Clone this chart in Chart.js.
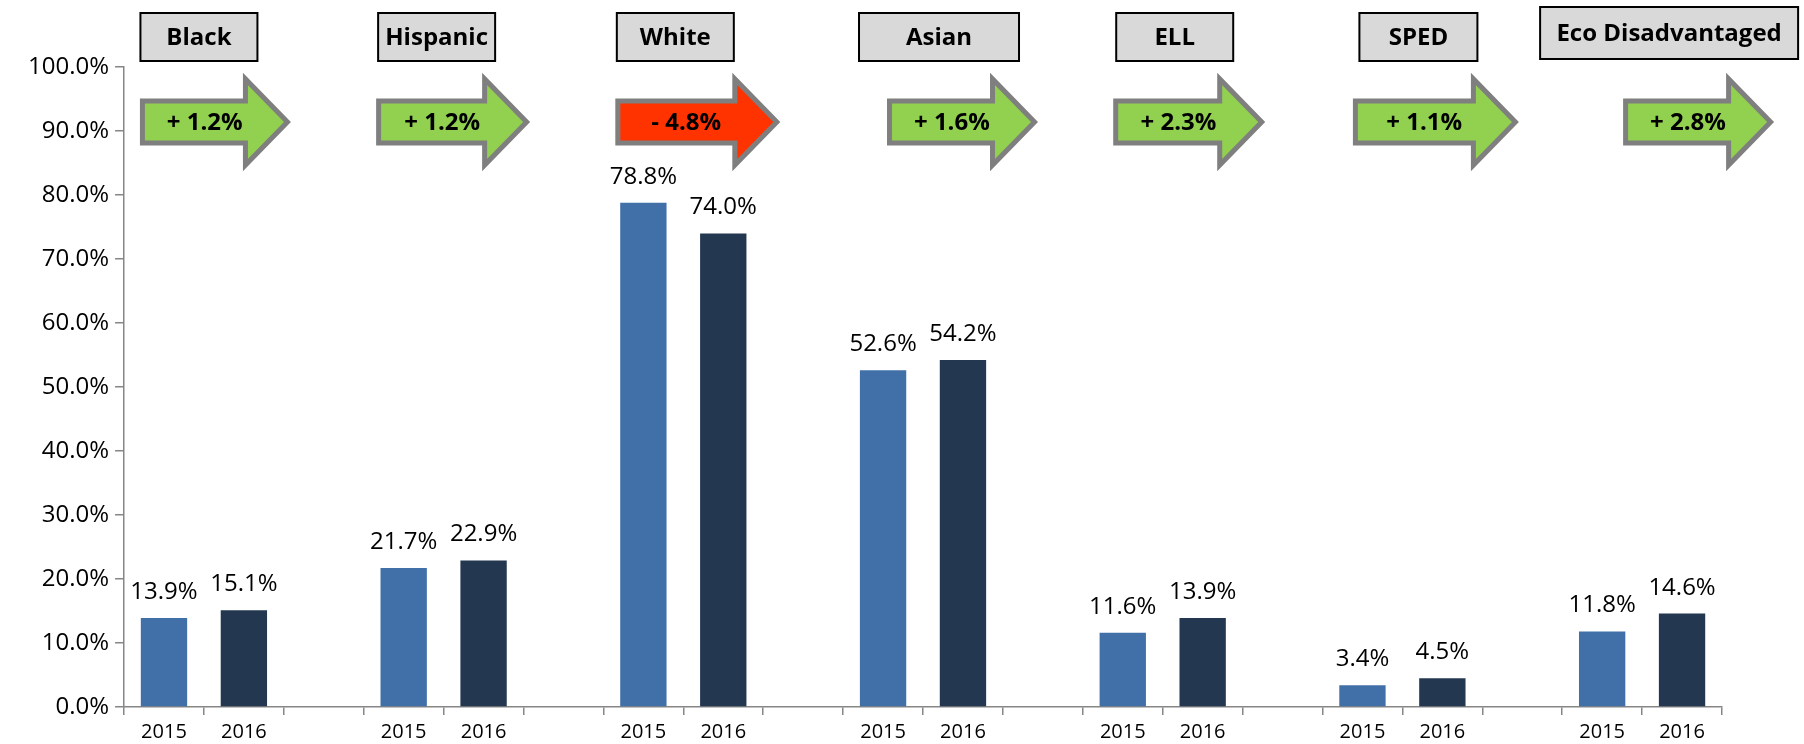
<!DOCTYPE html>
<html>
<head>
<meta charset="utf-8">
<script src="https://cdn.jsdelivr.net/npm/chart.js@4"></script>
<style>
  body { margin: 0; background: #fff; }
  #wrap { width: 1804px; height: 744px; }
</style>
</head>
<body>
<div id="wrap"><canvas id="myChart"></canvas></div>
<script>
// data
const groups = ['Black', 'Hispanic', 'White', 'Asian', 'ELL', 'SPED', 'Eco Disadvantaged'];
const years = ['2015', '2016'];
const values2015 = [13.9, 21.7, 78.8, 52.6, 11.6, 3.4, 11.8];
const values2016 = [15.1, 22.9, 74.0, 54.2, 13.9, 4.5, 14.6];
const changes = [1.2, 1.2, -4.8, 1.6, 2.3, 1.1, 2.8];
const yTicks = [0, 10, 20, 30, 40, 50, 60, 70, 80, 90, 100];

// header box / arrow placement (hand placed in the original)
const boxShift = [-5, -7, -8, 16, 12, 16, 27];
const boxWidth = [117, 117, 117, 160, 117, 118, 258];
const arrowShift = [16, 16, 22, 23, 14, 17, 29];
const arrowWidth = [145, 148, 159, 145, 146, 160, 145];

const C2015 = '#4170A8';
const C2016 = '#233751';
const FONT = '"Open Sans", "Liberation Sans", sans-serif';

// build the 2015, 2016, blank pattern
const labels = [];
const values = [];
const colors = [];
groups.forEach((g, i) => {
    labels.push(years[0], years[1]);
    values.push(values2015[i], values2016[i]);
    colors.push(C2015, C2016);
    if (i < groups.length - 1) {
        labels.push('');
        values.push(null);
        colors.push(C2015);
    }
});

const valueLabels = {
    id: 'valueLabels',
    afterDatasetsDraw(chart) {
        const ctx = chart.ctx;
        const meta = chart.getDatasetMeta(0);
        ctx.save();
        ctx.font = '24px ' + FONT;
        ctx.fillStyle = '#000';
        ctx.textAlign = 'center';
        ctx.textBaseline = 'alphabetic';
        meta.data.forEach((bar, i) => {
            const v = values[i];
            if (v === null) return;
            ctx.fillText(v.toFixed(1) + '%', bar.x, bar.y - 19);
        });
        ctx.restore();
    }
};

function drawArrow(ctx, left, cy, w, fill) {
    const head = 42, shaftH = 21, headH = 43;
    const right = left + w;
    ctx.beginPath();
    ctx.moveTo(left, cy - shaftH);
    ctx.lineTo(right - head, cy - shaftH);
    ctx.lineTo(right - head, cy - headH);
    ctx.lineTo(right, cy);
    ctx.lineTo(right - head, cy + headH);
    ctx.lineTo(right - head, cy + shaftH);
    ctx.lineTo(left, cy + shaftH);
    ctx.closePath();
    ctx.fillStyle = fill;
    ctx.fill();
    ctx.lineWidth = 5;
    ctx.strokeStyle = '#7F7F7F';
    ctx.lineJoin = 'miter';
    ctx.stroke();
}

const headers = {
    id: 'headers',
    afterDraw(chart) {
        const ctx = chart.ctx;
        const x = chart.scales.x;
        ctx.save();
        groups.forEach((g, i) => {
            const center = (x.getPixelForValue(i * 3) + x.getPixelForValue(i * 3 + 1)) / 2;
            // title box
            const bc = center + boxShift[i];
            const bw = boxWidth[i];
            const top = i === groups.length - 1 ? 7 : 13;
            const bh = i === groups.length - 1 ? 52 : 48;
            ctx.fillStyle = '#D9D9D9';
            ctx.fillRect(bc - bw / 2, top, bw, bh);
            ctx.lineWidth = 2;
            ctx.strokeStyle = '#000';
            ctx.strokeRect(bc - bw / 2, top, bw, bh);
            ctx.fillStyle = '#000';
            ctx.font = 'bold 24px ' + FONT;
            ctx.textAlign = 'center';
            ctx.textBaseline = 'middle';
            ctx.fillText(g, bc, top + bh / 2 + 1);

            // change arrow
            const ac = bc + arrowShift[i];
            const aw = arrowWidth[i];
            const left = ac - aw / 2;
            const cy = 122;
            drawArrow(ctx, left, cy, aw, changes[i] < 0 ? '#FF3300' : '#92D050');
            const txt = (changes[i] < 0 ? '- ' : '+ ') + Math.abs(changes[i]).toFixed(1) + '%';
            ctx.fillStyle = '#000';
            ctx.font = 'bold 24px ' + FONT;
            ctx.fillText(txt, left + aw * 0.43, cy + 1);
        });
        ctx.restore();
    }
};

new Chart(document.querySelector('#myChart'), {
    type: 'bar',
    data: {
        labels: labels,
        datasets: [{
            data: values,
            backgroundColor: colors,
            barPercentage: 0.58,
            categoryPercentage: 1.0,
        }]
    },
    options: {
        responsive: true,
        maintainAspectRatio: false,
        animation: false,
        layout: { padding: { top: 67, left: 22, right: 82, bottom: -5 } },
        plugins: {
            legend: { display: false },
            tooltip: { enabled: false }
        },
        scales: {
            y: {
                min: 0,
                max: 100,
                afterBuildTicks(axis) {
                    axis.ticks = yTicks.map(v => ({ value: v }));
                },
                ticks: {
                    color: '#000',
                    padding: 6,
                    font: { size: 24, family: FONT },
                    callback: v => v.toFixed(1) + '%'
                },
                grid: {
                    drawOnChartArea: false,
                    tickLength: 9,
                    color: '#868686',
                    lineWidth: 1.5
                },
                border: { color: '#868686', width: 1.5 }
            },
            x: {
                ticks: {
                    color: '#000',
                    padding: 5,
                    maxRotation: 0,
                    autoSkip: false,
                    font: { size: 20, family: FONT }
                },
                grid: {
                    offset: true,
                    drawOnChartArea: false,
                    tickLength: 8,
                    color: '#868686',
                    lineWidth: 1.5
                },
                border: { color: '#868686', width: 1.5 }
            }
        }
    },
    plugins: [valueLabels, headers]
});
</script>
</body>
</html>
